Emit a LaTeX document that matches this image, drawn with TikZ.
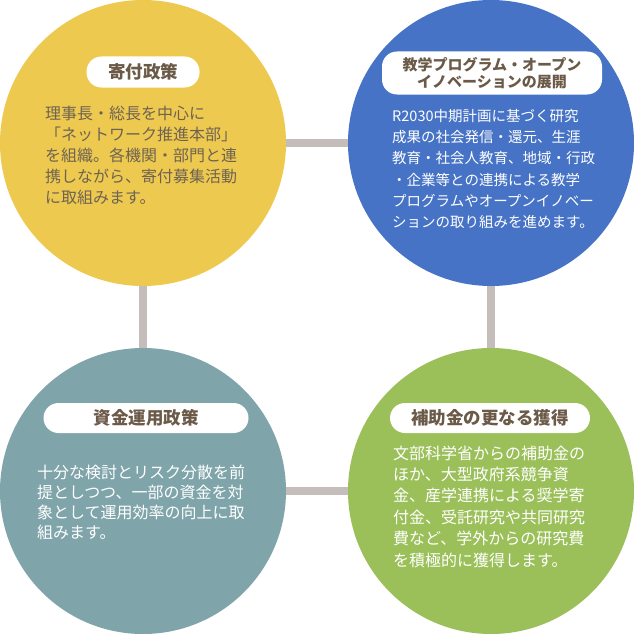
\documentclass[tikz,border=0pt]{standalone}
\usepackage{fontspec}
\newfontfamily\jp{Noto Sans CJK JP}
\usetikzlibrary{backgrounds}
\definecolor{cyellow}{HTML}{EEC94F}
\definecolor{cblue}{HTML}{4673C5}
\definecolor{cteal}{HTML}{7FA4AA}
\definecolor{cgreen}{HTML}{9BC05A}
\definecolor{cconn}{HTML}{C5BDB9}
\definecolor{ctitle}{HTML}{6B5A48}
\definecolor{cdark}{HTML}{6E6353}
\tikzset{
  disc/.style={circle,draw=none,minimum size=286pt,inner sep=0pt},
  conn/.style={draw=cconn,line width=8pt},
  pill/.style={fill=white,rounded corners=15pt,inner sep=0pt,text=ctitle,
    font=\jp\bfseries\fontsize{17.5}{20}\selectfont},
  bodyline/.style={anchor=west,inner sep=0pt,text height=12pt,text depth=0pt,
    font=\jp\fontsize{16}{21}\selectfont},
  bodysmall/.style={anchor=west,inner sep=0pt,text height=11pt,text depth=0pt,
    font=\jp\fontsize{14.5}{21}\selectfont}
}
\begin{document}
\begin{tikzpicture}[x=1pt,y=-1pt]
\useasboundingbox (0,0) rectangle (634,634);
\node[disc,fill=cyellow] (tl) at (143,143) {};
\node[disc,fill=cblue] (tr) at (491,143) {};
\node[disc,fill=cteal] (bl) at (143,491) {};
\node[disc,fill=cgreen] (br) at (491,491) {};
\begin{scope}[on background layer]
\draw[conn] (tl.center) -- (tr.center);
\draw[conn] (tl.center) -- (bl.center);
\draw[conn] (tr.center) -- (br.center);
\draw[conn] (bl.center) -- (br.center);
\end{scope}
% titles
\node[pill,minimum width=113pt,minimum height=31pt] (tlt) at (143,72) {寄付政策};
\node[pill,minimum width=220pt,minimum height=43pt,align=center,
  font=\jp\bfseries\fontsize{15}{17}\selectfont] (trt) at (492,73)
  {教学プログラム・オープン\\イノベーションの展開};
\node[pill,minimum width=205pt,minimum height=30pt] (blt) at (146,418) {資金運用政策};
\node[pill,minimum width=200pt,minimum height=30pt] (brt) at (490,418) {補助金の更なる獲得};
% bodies
\foreach \t [count=\i] in {理事長・総長を中心に,「ネットワーク推進本部」,を組織。各機関・部門と連,携しながら、寄付募集活動,に取組みます。}
  \node[bodyline,text=cdark] (tlb\i) at (45,{113+21*(\i-1)}) {\t};
\foreach \t [count=\i] in {R2030中期計画に基づく研究,成果の社会発信・還元、生涯,教育・社会人教育、地域・行政,・企業等との連携による教学,プログラムやオープンイノベー,ションの取り組みを進めます。}
  \node[bodysmall,text=white] (trb\i) at (392,{116+21.2*(\i-1)}) {\t};
\foreach \t [count=\i] in {十分な検討とリスク分散を前,提としつつ、一部の資金を対,象として運用効率の向上に取,組みます。}
  \node[bodyline,text=white] (blb\i) at (37,{472+20*(\i-1)}) {\t};
\foreach \t [count=\i] in {文部科学省からの補助金の,ほか、大型政府系競争資,金、産学連携による奨学寄,付金、受託研究や共同研究,費など、学外からの研究費,を積極的に獲得します。}
  \node[bodyline,text=white] (brb\i) at (393,{453+21.4*(\i-1)}) {\t};
\end{tikzpicture}
\end{document}
